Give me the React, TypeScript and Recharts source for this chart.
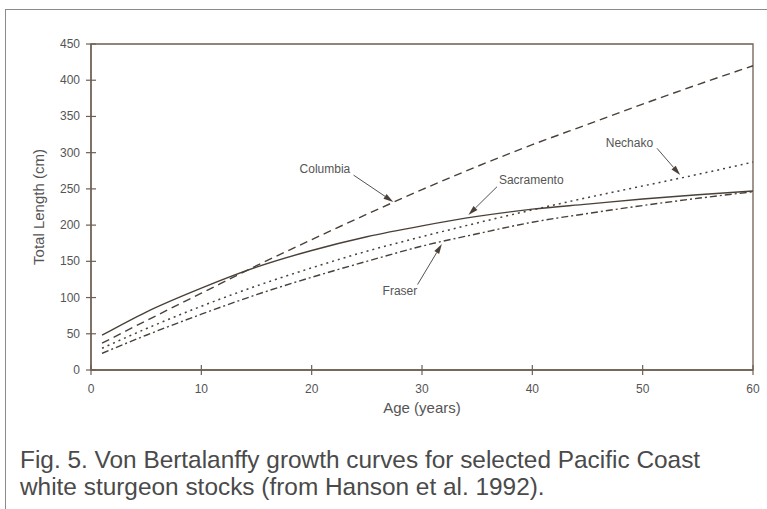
import React from 'react';
import { LineChart, Line, XAxis, YAxis, ReferenceArea, ReferenceLine, ReferenceDot } from 'recharts';

// ---- data ----
const ages = [1, 5, 10, 15, 20, 25, 30, 35, 40, 45, 50, 55, 60];
const columbia = [37, 68, 106, 144, 180, 215, 249, 281, 311, 339, 367, 394, 420];
const sacramento = [48, 80, 113, 142, 165, 184, 199, 212, 222, 229, 236, 242, 247];
const nechako = [30, 57, 88, 116, 141, 164, 184, 203, 221, 238, 254, 270, 287];
const fraser = [23, 48, 77, 104, 128, 150, 171, 188, 204, 216, 227, 237, 246];

const xTicks = [0, 10, 20, 30, 40, 50, 60];
const yTicks = [0, 50, 100, 150, 200, 250, 300, 350, 400, 450];

// annotation labels: [age, length] and arrows: [fromAge, fromLen, toAge, toLen]
const labelNames = ['Columbia', 'Sacramento', 'Nechako', 'Fraser'];
const labelAt = [
  [21.2, 277],
  [39.9, 262],
  [48.8, 314],
  [28.0, 109],
];
const arrows = [
  [23.8, 269, 27.4, 232],
  [36.8, 253, 34.2, 214],
  [51.3, 306, 53.4, 269],
  [29.6, 118, 31.8, 174],
];

const data = ages.map((a, i) => ({
  age: a,
  columbia: columbia[i],
  sacramento: sacramento[i],
  nechako: nechako[i],
  fraser: fraser[i],
}));

const INK = '#4a4038';
const AXIS = '#6e5f52';
const TEXT = '#555555';
const FONT = '"Liberation Sans", Arial, Helvetica, sans-serif';

const YTick = (props: any) => {
  const { x, y, payload } = props;
  const ax = x + 11;
  return (
    <g>
      <line x1={ax - 5} x2={ax + 5} y1={y} y2={y} stroke={AXIS} strokeWidth={1.2} />
      <text x={x} y={y} dy={4} textAnchor="end" fontSize={12} fontFamily={FONT} fill={TEXT}>
        {payload.value}
      </text>
    </g>
  );
};

const XTick = (props: any) => {
  const { x, y, payload } = props;
  const ay = y - 11;
  return (
    <g>
      <line x1={x} x2={x} y1={ay - 5} y2={ay + 5} stroke={AXIS} strokeWidth={1.2} />
      <text x={x} y={y} dy={12} textAnchor="middle" fontSize={12} fontFamily={FONT} fill={TEXT}>
        {payload.value}
      </text>
    </g>
  );
};

const Arrow = (props: any) => {
  const { x1, y1, x2, y2 } = props;
  if ([x1, y1, x2, y2].some((v) => typeof v !== 'number' || isNaN(v))) return null;
  const dx = x2 - x1;
  const dy = y2 - y1;
  const len = Math.sqrt(dx * dx + dy * dy) || 1;
  const ux = dx / len;
  const uy = dy / len;
  const hl = 10;
  const hw = 2.8;
  const bx = x2 - ux * hl;
  const by = y2 - uy * hl;
  const p1 = `${bx - uy * hw},${by + ux * hw}`;
  const p2 = `${bx + uy * hw},${by - ux * hw}`;
  return (
    <g>
      <line x1={x1} y1={y1} x2={bx} y2={by} stroke="#5a514a" strokeWidth={1} />
      <polygon points={`${x2},${y2} ${p1} ${p2}`} fill="#4a4038" />
    </g>
  );
};

export default function App() {
  return (
    <div style={{ position: 'absolute', left: 0, top: 0, width: 767, height: 509, background: '#fff', overflow: 'hidden' }}>
      <div style={{ position: 'absolute', left: 5, top: 9, width: 770, height: 520, borderTop: '1.5px solid #8a8a8a', borderLeft: '1.5px solid #8a8a8a' }} />
      <div style={{ position: 'absolute', left: 0, top: 0 }}>
        <LineChart width={767} height={430} data={data} margin={{ top: 44, right: 14, bottom: 15, left: 31 }}>
          <XAxis
            dataKey="age"
            type="number"
            domain={[0, 60]}
            ticks={xTicks}
            tickLine={false}
            tickSize={5}
            tickMargin={6}
            axisLine={{ stroke: AXIS, strokeWidth: 1.3 }}
            tick={<XTick />}
            height={45}
            label={{ value: 'Age (years)', position: 'insideBottom', offset: 2, fontSize: 15, fontFamily: FONT, fill: TEXT }}
          />
          <YAxis
            type="number"
            domain={[0, 450]}
            ticks={yTicks}
            tickLine={false}
            tickSize={5}
            tickMargin={6}
            axisLine={{ stroke: AXIS, strokeWidth: 1.3 }}
            tick={<YTick />}
            width={60}
            label={{ value: 'Total Length (cm)', angle: -90, position: 'insideLeft', offset: 8, fontSize: 15, fontFamily: FONT, fill: TEXT, style: { textAnchor: 'middle' } }}
          />
          <ReferenceArea x1={0} x2={60} y1={0} y2={450} fill="none" stroke={AXIS} strokeWidth={1.3} />
          <Line dataKey="columbia" type="monotone" stroke={INK} strokeWidth={1.4} strokeDasharray="8 5" dot={false} isAnimationActive={false} />
          <Line dataKey="sacramento" type="monotone" stroke={INK} strokeWidth={1.4} dot={false} isAnimationActive={false} />
          <Line dataKey="nechako" type="monotone" stroke={INK} strokeWidth={1.5} strokeDasharray="2 4" dot={false} isAnimationActive={false} />
          <Line dataKey="fraser" type="monotone" stroke={INK} strokeWidth={1.4} strokeDasharray="7 3 2 3" dot={false} isAnimationActive={false} />
          {arrows.map((a, i) => (
            <ReferenceLine
              key={'ar' + i}
              segment={[{ x: a[0], y: a[1] }, { x: a[2], y: a[3] }]}
              shape={(p: any) => <Arrow {...p} />}
            />
          ))}
          {labelNames.map((n, i) => (
            <ReferenceDot
              key={'lb' + i}
              x={labelAt[i][0]}
              y={labelAt[i][1]}
              r={0}
              shape={(p: any) => (
                <text x={p.cx} y={p.cy} dy={4} textAnchor="middle" fontSize={12} fontFamily={FONT} fill={TEXT}>
                  {n}
                </text>
              )}
            />
          ))}
        </LineChart>
      </div>
      <div style={{ position: 'absolute', left: 20, top: 446, fontFamily: FONT, fontSize: 24.4, lineHeight: '27px', color: '#4a4a4a', whiteSpace: 'nowrap' }}>
        <div>Fig. 5. Von Bertalanffy growth curves for selected Pacific Coast</div>
        <div>white sturgeon stocks (from Hanson et al. 1992).</div>
      </div>
    </div>
  );
}
